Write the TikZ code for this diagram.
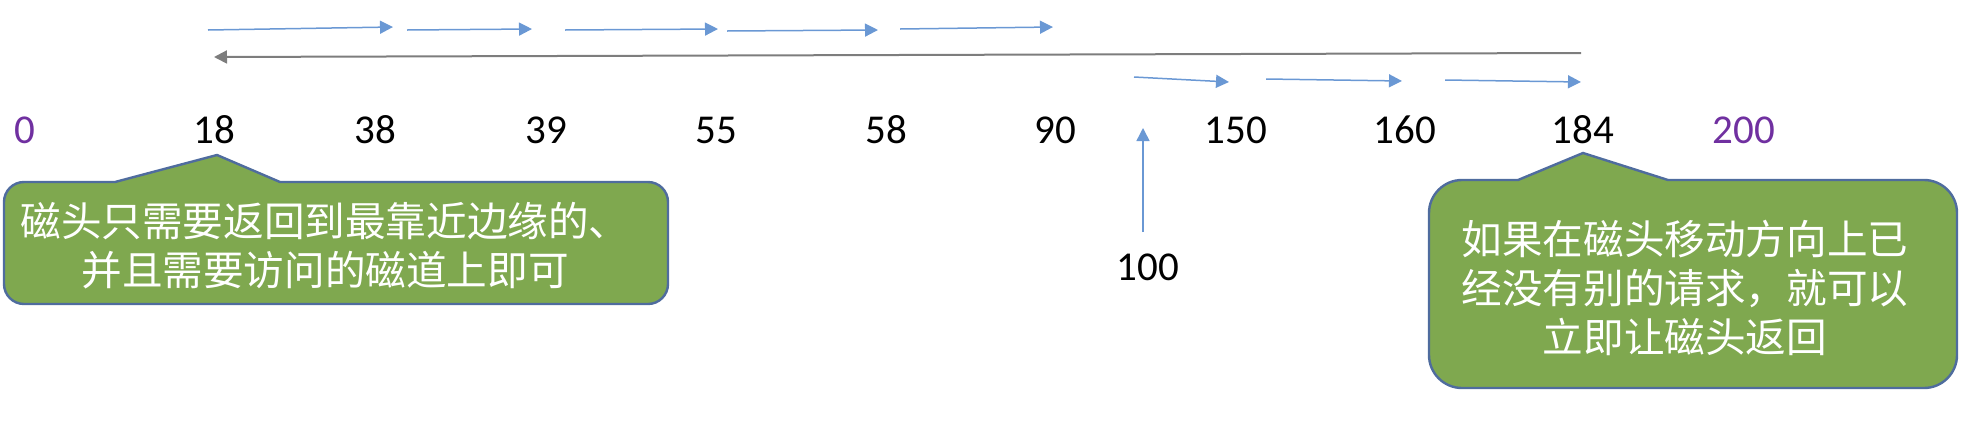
\documentclass[tikz,border=0pt]{standalone}
\usepackage{fontspec}
\setmainfont{Carlito}
\newfontfamily\cjk{Noto Sans CJK SC}
\usetikzlibrary{arrows.meta}

\definecolor{freccia}{RGB}{106,152,212}
\definecolor{grigio}{RGB}{125,125,125}
\definecolor{viola}{RGB}{112,48,160}
\definecolor{verde}{RGB}{127,168,79}
\definecolor{bordo}{RGB}{79,108,158}

\begin{document}
\begin{tikzpicture}[x=0.5pt, y=0.5pt, >={Triangle[length=6.5pt,width=6.5pt]},
  passo/.style={->, draw=freccia, line width=0.75pt},
  ritorno/.style={->, draw=grigio, line width=1pt},
  traccia/.style={font=\fontsize{20.5pt}{24pt}\selectfont, anchor=base, inner sep=0pt},
  fumetto/.style={fill=verde, draw=bordo, line width=1.2pt},
  testo/.style={text=white, align=center, font=\cjk\fontsize{20.3pt}{24.5pt}\selectfont}]

\useasboundingbox (0,0) rectangle (1976,420);

% Numeri delle tracce
\node[traccia, text=viola] (t0) at (25,277) {0};
\node[traccia] (t18) at (214,277) {18};
\node[traccia] (t38) at (375,277) {38};
\node[traccia] (t39) at (546,277) {39};
\node[traccia] (t55) at (716,277) {55};
\node[traccia] (t58) at (886,277) {58};
\node[traccia] (t90) at (1055,277) {90};
\node[traccia] (t150) at (1236,277) {150};
\node[traccia] (t160) at (1405,277) {160};
\node[traccia] (t184) at (1583,277) {184};
\node[traccia, text=viola] (t200) at (1744,277) {200};
\node[traccia] (t100) at (1148,140) {100};

% Posizione iniziale della testina
\coordinate (h0) at (1143,188);
\coordinate (h1) at (1143,292);
\draw[passo] (h0) -- (h1);

% Primo passaggio verso destra
\coordinate (a1) at (1134,343); \coordinate (b1) at (1229,338);
\coordinate (a2) at (1266,341); \coordinate (b2) at (1402,339);
\coordinate (a3) at (1445,340); \coordinate (b3) at (1581,338);
\draw[passo] (a1) -- (b1);
\draw[passo] (a2) -- (b2);
\draw[passo] (a3) -- (b3);

% Ritorno della testina
\coordinate (r0) at (1581,367);
\coordinate (r1) at (214,363);
\draw[ritorno] (r0) -- (r1);

% Secondo passaggio verso destra
\coordinate (c1) at (208,390); \coordinate (d1) at (393,393);
\coordinate (c2) at (407,390); \coordinate (d2) at (532,391);
\coordinate (c3) at (565,390); \coordinate (d3) at (718,391);
\coordinate (c4) at (727,389); \coordinate (d4) at (878,390);
\coordinate (c5) at (900,391); \coordinate (d5) at (1053,393);
\draw[passo] (c1) -- (d1);
\draw[passo] (c2) -- (d2);
\draw[passo] (c3) -- (d3);
\draw[passo] (c4) -- (d4);
\draw[passo] (c5) -- (d5);

% Fumetto a sinistra
\draw[fumetto] (4,136) -- (4,218) arc[start angle=180, end angle=90, radius=20]
  -- (115,238) -- (217,265) -- (280,238) -- (648,238)
  arc[start angle=90, end angle=0, radius=20] -- (668,136)
  arc[start angle=0, end angle=-90, radius=20] -- (24,116)
  arc[start angle=270, end angle=180, radius=20] -- cycle;
\node[testo] (nota1) at (325,174) {磁头只需要返回到最靠近边缘的、\\并且需要访问的磁道上即可};

% Fumetto a destra
\draw[fumetto] (1429,65) -- (1429,207) arc[start angle=180, end angle=90, radius=33]
  -- (1518,240) -- (1583,267) -- (1668,240) -- (1924,240)
  arc[start angle=90, end angle=0, radius=33] -- (1957,65)
  arc[start angle=0, end angle=-90, radius=33] -- (1462,32)
  arc[start angle=270, end angle=180, radius=33] -- cycle;
\node[testo] (nota2) at (1685,132) {如果在磁头移动方向上已\\经没有别的请求，就可以\\立即让磁头返回};

\end{tikzpicture}
\end{document}
